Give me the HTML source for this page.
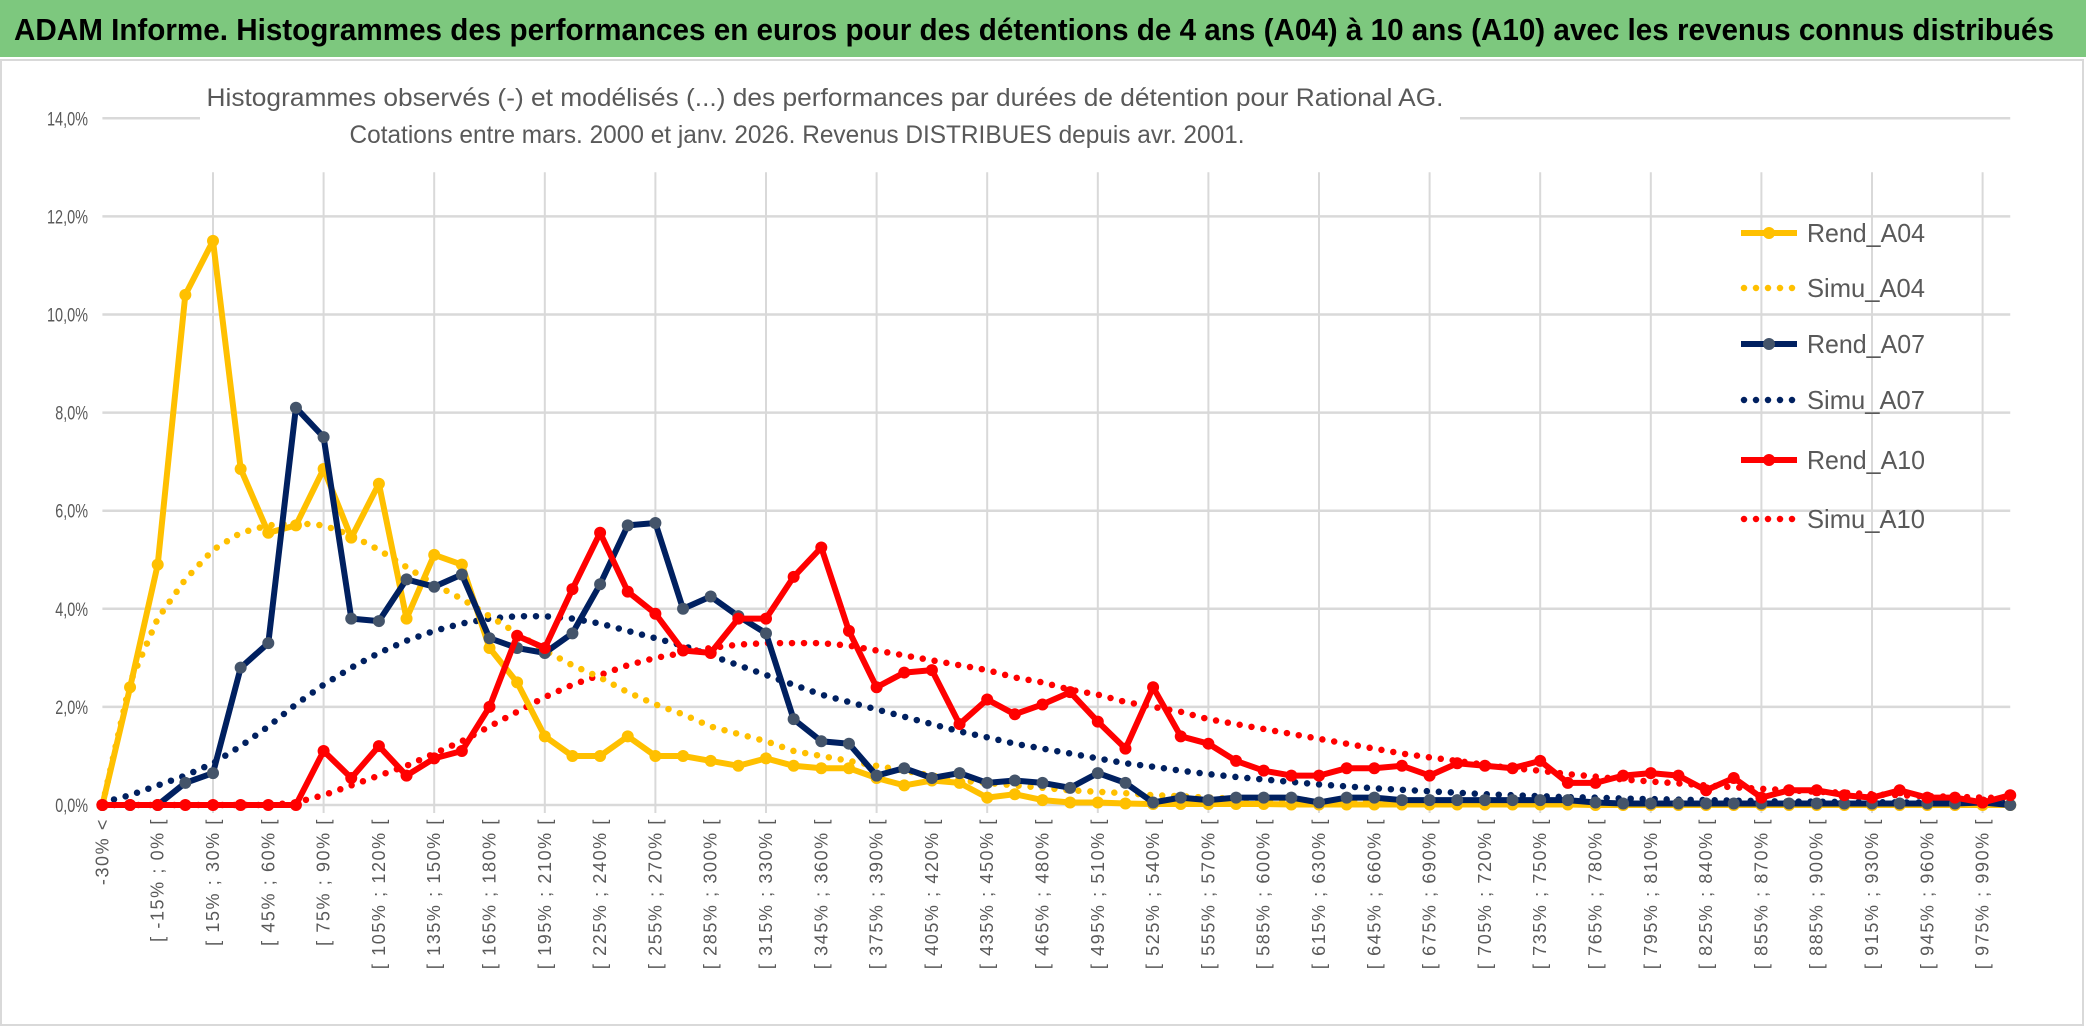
<!DOCTYPE html>
<html><head><meta charset="utf-8"><style>
html,body{margin:0;padding:0;background:#fff;}
svg{display:block;font-family:"Liberation Sans",sans-serif;}
</style></head><body>
<svg id="chart" width="2086" height="1031" viewBox="0 0 2086 1031" xmlns="http://www.w3.org/2000/svg">
<rect x="0" y="0" width="2086" height="57" fill="#7dc87e"/>
<text x="14" y="40" font-size="31" font-weight="bold" fill="#000" textLength="2040" lengthAdjust="spacingAndGlyphs">ADAM Informe. Histogrammes des performances en euros pour des détentions de 4 ans (A04) à 10 ans (A10) avec les revenus connus distribués</text>
<rect x="1" y="60" width="2082" height="965" fill="#fff" stroke="#d9d9d9" stroke-width="2"/>
<g id="grid"></g>
<rect x="200" y="78" width="1260" height="72" fill="#fff"/>
<text x="825" y="106" font-size="25" fill="#595959" text-anchor="middle" textLength="1237" lengthAdjust="spacingAndGlyphs">Histogrammes observés (-) et modélisés (...) des performances par durées de détention pour Rational AG.</text>
<text x="797" y="143" font-size="25" fill="#595959" text-anchor="middle" textLength="895" lengthAdjust="spacingAndGlyphs">Cotations entre mars. 2000 et janv. 2026. Revenus DISTRIBUES depuis avr. 2001.</text>
<g id="yaxis"></g>
<g id="xaxis"></g>
<g id="series"></g>
<g id="legend"></g>
</svg>
<script>
const categories = (function(){ const c=["-30% <","[ -30% ; -15% ["]; for(let a=-15;a<=990;a+=15){c.push("[ "+a+"% ; "+(a+15)+"% [");} return c; })();
const yTicks = [0,2,4,6,8,10,12,14];
const yTickLabels = ["0,0%","2,0%","4,0%","6,0%","8,0%","10,0%","12,0%","14,0%"];
const rendA04 = [0,2.4,4.9,10.4,11.5,6.85,5.55,5.7,6.85,5.45,6.55,3.8,5.1,4.9,3.2,2.5,1.4,1.0,1.0,1.4,1.0,1.0,0.9,0.8,0.95,0.8,0.75,0.75,0.55,0.4,0.5,0.45,0.15,0.22,0.1,0.05,0.05,0.03,0.02,0.02,0.02,0.02,0.02,0.01,0.01,0.01,0.01,0.01,0.01,0.01,0.01,0.01,0.01,0.01,0,0,0,0,0,0,0,0,0,0,0,0,0,0,0,0];
const rendA07 = [0,0,0,0.45,0.65,2.8,3.3,8.1,7.5,3.8,3.75,4.6,4.45,4.7,3.4,3.2,3.1,3.5,4.5,5.7,5.75,4.0,4.25,3.85,3.5,1.75,1.3,1.25,0.6,0.75,0.55,0.65,0.45,0.5,0.45,0.35,0.65,0.45,0.05,0.15,0.1,0.15,0.15,0.15,0.05,0.15,0.15,0.1,0.1,0.1,0.1,0.1,0.1,0.1,0.05,0.03,0.03,0.03,0.03,0.03,0.03,0.03,0.03,0.03,0.03,0.03,0.03,0.03,0.05,0];
const rendA10 = [0,0,0,0,0,0,0,0,1.1,0.55,1.2,0.6,0.95,1.1,2.0,3.45,3.2,4.4,5.55,4.35,3.9,3.15,3.1,3.8,3.8,4.65,5.25,3.55,2.4,2.7,2.75,1.65,2.15,1.85,2.05,2.3,1.7,1.15,2.4,1.4,1.25,0.9,0.7,0.6,0.6,0.75,0.75,0.8,0.6,0.85,0.8,0.75,0.9,0.45,0.45,0.6,0.65,0.6,0.3,0.55,0.15,0.3,0.3,0.2,0.15,0.3,0.15,0.15,0.05,0.2];
const simuA04 = [0,2.5,3.8,4.6,5.2,5.55,5.7,5.75,5.7,5.5,5.2,4.85,4.5,4.2,3.85,3.5,3.15,2.85,2.6,2.3,2.05,1.85,1.6,1.45,1.3,1.1,1.0,0.9,0.8,0.7,0.6,0.5,0.45,0.4,0.35,0.3,0.27,0.24,0.2,0.18,0.15,0.13,0.11,0.1,0.09,0.08,0.07,0.06,0.05,0.05,0.04,0.04,0.03,0.03,0.03,0.02,0.02,0.02,0.02,0.02,0.01,0.01,0.01,0.01,0.01,0.01,0.01,0.01,0.01,0.01];
const simuA07 = [0.05,0.2,0.4,0.6,0.85,1.2,1.6,2.05,2.45,2.8,3.1,3.35,3.55,3.7,3.8,3.85,3.85,3.8,3.7,3.55,3.4,3.25,3.05,2.85,2.65,2.45,2.25,2.1,1.95,1.8,1.65,1.5,1.38,1.25,1.15,1.05,0.95,0.85,0.78,0.7,0.63,0.57,0.52,0.47,0.42,0.38,0.34,0.31,0.28,0.25,0.22,0.2,0.18,0.16,0.15,0.13,0.12,0.11,0.1,0.09,0.08,0.07,0.07,0.06,0.06,0.05,0.05,0.04,0.04,0.04];
const simuA10 = [0,0,0,0,0,0,0,0.05,0.2,0.4,0.6,0.8,1.05,1.3,1.6,1.9,2.2,2.45,2.65,2.85,3.0,3.1,3.2,3.27,3.3,3.3,3.3,3.25,3.15,3.05,2.95,2.85,2.75,2.6,2.5,2.35,2.25,2.1,2.0,1.9,1.75,1.65,1.55,1.45,1.35,1.25,1.15,1.05,0.97,0.9,0.82,0.75,0.7,0.63,0.58,0.52,0.48,0.44,0.4,0.36,0.33,0.3,0.27,0.25,0.22,0.2,0.18,0.17,0.15,0.14];

const NS="http://www.w3.org/2000/svg";
const X0=102.4, STEP=27.65, Y0=805, PX=49.05;
const xPos=i=>X0+STEP*i;
const yPos=v=>Y0-v*PX;
function mk(tag,attrs,parent){const e=document.createElementNS(NS,tag);for(const k in attrs)e.setAttribute(k,attrs[k]);parent.appendChild(e);return e;}

const grid=document.getElementById('grid');
yTicks.forEach(t=>{
  const l=mk('line',{x1:X0,x2:xPos(categories.length-1),y1:yPos(t),y2:yPos(t),stroke:'#d9d9d9','stroke-width':2.5},grid);
  
  
});
for(let i=4;i<categories.length;i+=4){
  const l=mk('line',{x1:xPos(i),x2:xPos(i),y1:yPos(12.9),y2:Y0+8,stroke:'#d9d9d9','stroke-width':2},grid);
  
  
}
const ya=document.getElementById('yaxis');
yTicks.forEach((t,k)=>{
  const tx=mk('text',{x:88,y:yPos(t)+7,'font-size':19,fill:'#595959','text-anchor':'end',textLength:yTickLabels[k].length*8.2,lengthAdjust:'spacingAndGlyphs'},ya);
  tx.textContent=yTickLabels[k];
  
  
});
const xa=document.getElementById('xaxis');
categories.forEach((c,i)=>{
  if(i%2)return;
  const x=xPos(i)+6, y=818;
  const tx=mk('text',{x:x,y:y,'font-size':18,fill:'#595959','text-anchor':'end','letter-spacing':1.6,transform:`rotate(-90 ${x} ${y})`},xa);
  tx.textContent=c;
  
  
});

const S=document.getElementById('series');
function pts(arr){return arr.map((v,i)=>xPos(i).toFixed(1)+','+yPos(v).toFixed(1)).join(' ');}
function dotted(arr,color,name){
  const p=mk('polyline',{points:pts(arr),fill:'none',stroke:color,'stroke-width':6.5,'stroke-linecap':'round','stroke-dasharray':'0 12'},S);
  
  
}
function solid(arr,color,mcolor,name){
  const g=mk('g',{},S);
  
  
  mk('polyline',{points:pts(arr),fill:'none',stroke:color,'stroke-width':6,'stroke-linejoin':'round'},g);
  arr.forEach((v,i)=>{
    const c=mk('circle',{cx:xPos(i),cy:yPos(v),r:6,fill:mcolor},g);
    
    
  });
}
dotted(simuA10,'#ff0000','simu-a10-line');
dotted(simuA07,'#002060','simu-a07-line');
dotted(simuA04,'#ffc000','simu-a04-line');
solid(rendA04,'#ffc000','#ffc000','rend-a04-line');
solid(rendA07,'#002060','#44546a','rend-a07-line');
solid(rendA10,'#ff0000','#ff0000','rend-a10-line');

const L=document.getElementById('legend');
const leg=[["Rend_A04",'#ffc000','#ffc000',false],["Simu_A04",'#ffc000',null,true],["Rend_A07",'#002060','#44546a',false],["Simu_A07",'#002060',null,true],["Rend_A10",'#ff0000','#ff0000',false],["Simu_A10",'#ff0000',null,true]];
const legY=[233,288,344,400,460,519];
leg.forEach((e,k)=>{
  const g=mk('g',{},L);
  
  
  const y=legY[k];
  if(e[3]){mk('line',{x1:1744,x2:1796,y1:y,y2:y,stroke:e[1],'stroke-width':6.5,'stroke-linecap':'round','stroke-dasharray':'0 12'},g);}
  else{mk('line',{x1:1741,x2:1797,y1:y,y2:y,stroke:e[1],'stroke-width':6},g);mk('circle',{cx:1769,cy:y,r:6,fill:e[2]},g);}
  const t=mk('text',{x:1807,y:y+9,'font-size':26,fill:'#595959',textLength:118,lengthAdjust:'spacingAndGlyphs'},g);
  t.textContent=e[0];
});
</script>
</body></html>
